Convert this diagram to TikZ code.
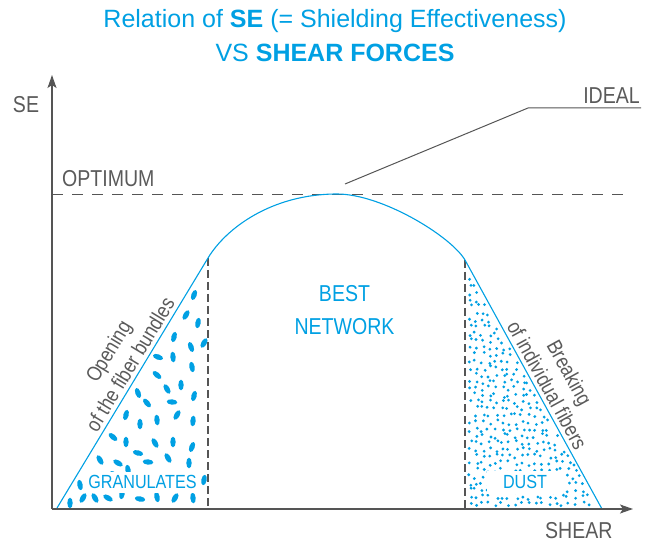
\documentclass[tikz,border=0pt]{standalone}
\usepackage{fontspec}
\setmainfont{Liberation Sans}
\newfontfamily\cond{Liberation Sans}[FakeStretch=0.85]
\usetikzlibrary{arrows.meta}
\definecolor{cblue}{RGB}{0,160,227}
\definecolor{tgray}{RGB}{90,90,90}
\definecolor{lgray}{RGB}{85,85,85}
\begin{document}
\begin{tikzpicture}[x=1pt,y=-1pt,
  axisline/.style={draw=lgray, line width=1.3pt, -{Stealth[length=13pt,width=9pt,inset=3pt]}},
  dashh/.style={draw=lgray, line width=1pt, dash pattern=on 11pt off 9pt},
  dashv/.style={draw=lgray, line width=1.2pt, dash pattern=on 8pt off 4pt},
  curve/.style={draw=cblue, line width=1.1pt},
  glabel/.style={text=tgray, font=\cond\fontsize{23}{27}\selectfont, inner sep=0pt},
  blabel/.style={text=cblue, font=\cond\fontsize{23}{32.5}\selectfont, align=center, inner sep=0pt},
  boxlabel/.style={text=cblue, fill=white, font=\cond\fontsize{19}{22}\selectfont, inner sep=0pt},
  slopelabel/.style={text=tgray, font=\cond\fontsize{21}{25.5}\selectfont, align=center, sloped, anchor=south, inner sep=4pt},
  titlefont/.style={text=cblue, font=\fontsize{25}{30}\selectfont, inner sep=0pt},
  gran/.style={fill=cblue},
]
\useasboundingbox (0,0) rectangle (645,545);

% title
\node[titlefont, anchor=base] (t1) at (335,28) {Relation of \textbf{SE} (= Shielding Effectiveness)};
\node[titlefont, anchor=base] (t2) at (335,62) {VS \textbf{SHEAR FORCES}};

% coordinates
\coordinate (O) at (52,509);
\coordinate (ytip) at (52,75);
\coordinate (xtip) at (633,509);
\coordinate (A) at (57,508);
\coordinate (B) at (208,258);
\coordinate (C1) at (226.1,228);
\coordinate (C2) at (272,194);
\coordinate (P) at (337,194);
\coordinate (C3) at (382,194);
\coordinate (C4) at (450.9,236.2);
\coordinate (R) at (465,260);
\coordinate (D) at (602,509);
\coordinate (Bb) at (208,509);
\coordinate (Rb) at (465,509);
\coordinate (optL) at (52,195);
\coordinate (optR) at (628,195);
\coordinate (ld1) at (345,184);
\coordinate (ld2) at (528,108);
\coordinate (ld3) at (641,108);

% granulates (ellipses)
\foreach \ex/\ey/\ea in {194/295/70, 186/315/60, 198/323/80, 174/337/75, 191/347/110, 204/343/60,
  158/357/160, 173/357/95, 192/367/100, 157/375/140, 167/389/120, 181/385/90, 138/393/110,
  194/396/75, 172/402/175, 147/403/130, 126/415/75, 140/424/90, 157/420/95, 177/415/60,
  193/421/85, 113/437/140, 126/442/90, 155/443/120, 173/442/90, 192/447/70, 138/453/165,
  100/460/120, 118/463/150, 148/462/175, 168/458/120, 189/463/90, 128/470/100, 80/485/100,
  83/498/60, 70/503/90, 95/498/120, 108/498/150, 122/494/80, 140/499/170, 157/497/100,
  175/498/60, 193/498/95, 204/480/80, 110/475/40}{
  \fill[gran, shift={(\ex,\ey)}, rotate=\ea] (0,0) ellipse[x radius=5.3pt, y radius=2.7pt];
}

% dust (dots)
\pgfmathsetseed{7}
\foreach \r in {0,...,35}{
  \foreach \c in {0,...,20}{
    \pgfmathsetmacro\py{266+\r*6.8+2.5*rand}
    \pgfmathsetmacro\px{469.5+\c*6.6+2.5*rand}
    \pgfmathtruncatemacro\ok{and(and(\px < 465+(\py-260)*0.5502-2.8, \py < 506), \px > 468.5)}
    \ifnum\ok=1 \fill[cblue] (\px,\py) circle[radius=1.55pt]; \fi
  }
}

% white-backed labels
\node[boxlabel, minimum width=116pt, minimum height=21pt] (granl) at (142.5,482) {GRANULATES};
\node[boxlabel, minimum width=76pt, minimum height=23pt] (dustl) at (525,482) {DUST};

% optimum dashed line
\draw[dashh] (optL) -- (optR);

% dashed verticals
\draw[dashv] (B) -- (Bb);
\draw[dashv] (R) -- (Rb);

% curve
\draw[curve] (A) -- (B) .. controls (C1) and (C2) .. (P) .. controls (C3) and (C4) .. (R) -- (D);

% ideal leader
\draw[draw=lgray, line width=1pt] (ld1) -- (ld2) -- (ld3);

% axes
\draw[axisline] (O) -- (ytip);
\draw[axisline] (O) -- (xtip);

% labels
\node[glabel] (se) at (26,105) {SE};
\node[glabel, anchor=base west] (opt) at (62,187) {OPTIMUM};
\node[glabel, anchor=base east] (ideal) at (640,104) {IDEAL};
\node[glabel, anchor=base west] (shear) at (545,538) {SHEAR};
\node[blabel] (best) at (344.5,310) {BEST\\NETWORK};

\path (A) -- (B) node[slopelabel, pos=0.55] (open) {Opening\\of the fiber bundles};
\path (R) -- (D) node[slopelabel, pos=0.525] (break) {Breaking\\of individual fibers};
\end{tikzpicture}
\end{document}
